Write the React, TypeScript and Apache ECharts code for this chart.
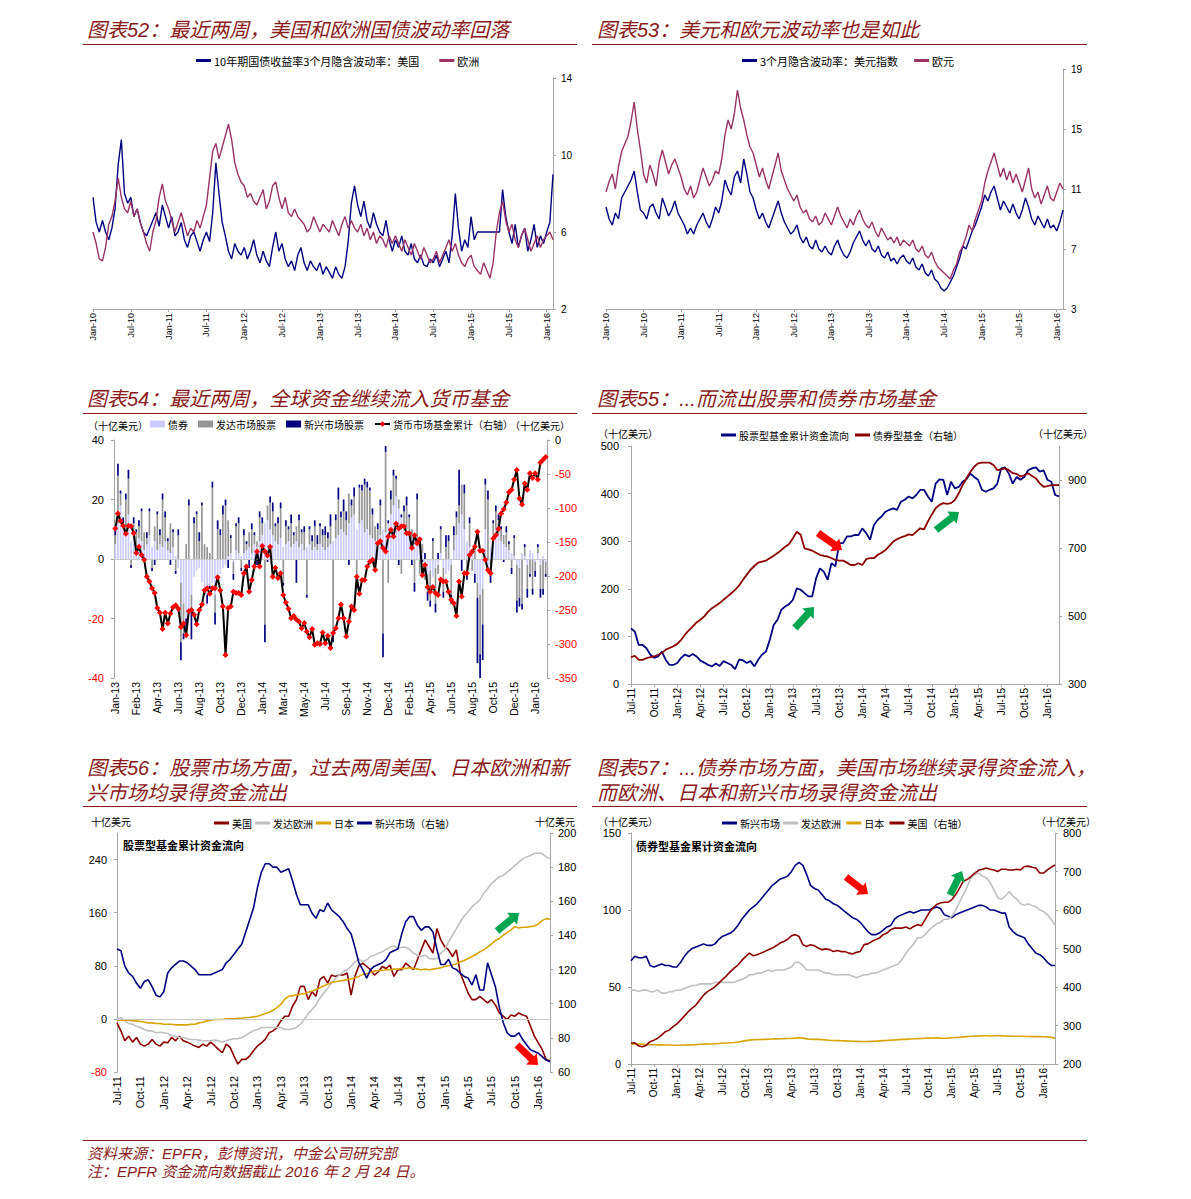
import React, { useEffect, useRef } from "react";
import * as echarts from "echarts";

// ---------- Panel 52: 10y treasury 3m implied vol (half-monthly, Jan-10 .. Feb-16)
const usVol52 = [
  7.8, 6.5, 6.0, 6.6, 6.0, 5.6, 6.2, 7.2, 9.5, 10.8, 8.0, 7.5,
  7.8, 6.8, 7.2, 6.5, 6.0, 5.8, 6.2, 6.6, 7.0, 6.3, 7.4, 6.8,
  6.2, 6.8, 5.8, 6.0, 6.5, 5.6, 5.2, 5.8, 6.0, 5.5, 5.0, 5.6,
  6.0, 5.5, 7.0, 9.6, 8.0, 6.5, 5.8, 5.0, 4.6, 5.4, 5.0, 4.8,
  5.2, 4.6, 5.0, 5.6, 4.8, 4.4, 5.0, 4.5, 4.2, 5.2, 6.0, 5.0,
  5.4, 4.6, 4.2, 4.5, 4.0, 4.8, 5.2, 4.4, 4.0, 4.5, 4.2, 4.0,
  4.4, 3.8, 4.2, 3.9, 3.6, 4.2, 3.8, 3.6, 4.2, 5.5, 7.5, 8.4,
  7.4, 6.8, 7.6, 6.6, 6.2, 7.0, 6.4, 6.0, 5.8, 6.6, 5.6, 5.0,
  5.6, 5.2, 5.8, 5.0, 4.8, 5.4, 4.6, 4.4, 4.8, 4.3, 4.2, 4.6,
  4.4, 4.8, 4.2, 4.6, 5.0, 4.4, 5.8, 8.0, 6.2, 5.0, 5.6, 5.2,
  6.8, 5.6, 6.0, 6.0, 6.0, 6.0, 6.0, 6.0, 6.0, 6.0, 8.2, 6.8,
  6.0, 5.4, 6.4, 5.2, 5.8, 6.2, 5.0, 5.6, 6.4, 5.2, 5.8, 5.4,
  6.0, 6.5, 9.0,
];
const euVol52 = [
  6.0, 5.4, 4.6, 4.5, 5.2, 6.4, 6.8, 7.6, 8.8, 7.8, 7.2, 7.0,
  7.6, 6.8, 7.2, 6.5, 6.0, 5.4, 5.0, 6.0, 6.6, 7.8, 8.5, 7.6,
  7.2, 6.6, 6.0, 6.5, 7.0, 6.4, 5.8, 6.2, 6.0, 6.6, 6.2, 6.8,
  7.4, 8.8, 10.2, 10.6, 9.8, 10.4, 11.0, 11.6, 10.8, 9.6, 9.0, 8.6,
  8.4, 7.8, 8.0, 7.6, 7.4, 7.8, 8.2, 7.2, 7.6, 8.4, 8.6, 7.8,
  7.2, 7.8, 7.0, 6.8, 7.2, 6.8, 6.6, 6.4, 6.0, 6.2, 6.8, 6.4,
  6.0, 6.4, 6.2, 6.0, 6.6, 6.2, 5.8, 6.4, 6.8, 6.2, 6.6, 6.2,
  6.0, 6.4, 5.8, 6.2, 5.6, 6.0, 5.4, 5.8, 5.6, 5.2, 5.8, 5.4,
  5.8, 5.4, 5.0, 5.6, 5.2, 4.8, 5.4, 5.0, 4.6, 5.2, 4.8, 4.4,
  4.6, 5.0, 4.4, 4.8, 5.2, 5.6, 5.0, 5.4, 4.8, 4.4, 4.2, 4.6,
  4.8, 4.2, 4.0, 3.8, 4.4, 4.0, 3.6, 4.4, 6.0, 7.0, 7.6, 6.6,
  6.0, 6.4, 5.6, 5.2, 5.8, 6.2, 5.6, 5.0, 5.4, 5.8, 5.2, 5.6,
  5.8, 6.0, 5.6,
];

// ---------- Panel 53: 3m implied vol, DXY and EUR (half-monthly)
const dxyVol53 = [
  9.8, 9.0, 8.6, 9.4, 9.0, 10.4, 10.8, 11.2, 11.6, 12.2, 10.8, 9.6,
  9.4, 9.0, 9.8, 10.0, 9.4, 9.0, 10.4, 9.8, 9.2, 9.6, 10.2, 9.4,
  9.0, 8.6, 8.0, 8.4, 8.0, 8.6, 9.0, 9.4, 8.8, 8.4, 9.0, 9.8,
  9.4, 10.2, 11.6, 11.0, 10.6, 11.8, 12.2, 11.4, 13.0, 12.0, 10.8, 10.4,
  9.6, 9.0, 9.4, 8.8, 8.4, 9.0, 9.6, 10.2, 9.4, 8.8, 8.4, 8.0,
  8.2, 8.6, 7.8, 7.4, 7.8, 7.2, 7.0, 7.6, 7.0, 6.8, 7.2, 6.8,
  6.6, 7.2, 7.6, 7.0, 6.6, 6.4, 6.8, 7.4, 7.8, 8.2, 7.6, 7.2,
  7.6, 7.0, 6.8, 7.2, 6.6, 6.4, 6.8, 6.2, 6.4, 6.0, 6.4, 6.6,
  6.2, 6.0, 6.4, 5.8, 5.6, 6.0, 5.4, 5.2, 5.6, 5.0, 4.8, 4.4,
  4.2, 4.4, 4.8, 5.2, 5.8, 6.4, 7.2, 7.0, 7.6, 8.2, 8.6, 9.2,
  9.8, 10.6, 10.2, 10.8, 11.2, 10.4, 9.6, 10.2, 9.8, 9.4, 10.0, 9.4,
  9.0, 9.6, 10.4, 9.8, 9.0, 8.6, 9.2, 8.8, 8.4, 9.0, 8.4, 8.6,
  8.2, 8.8, 9.6,
];
const eurVol53 = [
  10.8, 11.5, 12.0, 11.0, 12.5, 13.5, 14.0, 14.5, 15.5, 16.8, 15.0, 13.6,
  12.0, 11.4, 12.6, 12.0, 11.2, 12.8, 13.6, 12.8, 12.0, 12.6, 13.0, 12.4,
  11.8, 11.0, 10.6, 11.2, 10.4, 10.8, 11.6, 12.4, 11.8, 11.2, 11.6, 12.2,
  12.0, 13.0, 14.6, 15.6, 15.0, 16.0, 17.6, 16.4, 15.6, 14.6, 13.8, 13.4,
  12.6, 11.8, 12.4, 11.6, 11.0, 11.8, 12.6, 13.4, 12.2, 11.6, 11.0, 10.6,
  10.2, 10.6, 9.8, 9.4, 9.6, 9.0, 8.8, 9.2, 8.6, 8.8, 9.4, 9.0,
  8.6, 9.2, 9.8, 9.2, 8.8, 8.4, 9.0, 8.6, 9.2, 9.6, 9.0, 8.6,
  8.4, 8.8, 8.2, 7.8, 8.4, 8.0, 7.6, 7.8, 7.4, 7.8, 7.2, 7.6,
  7.4, 7.2, 7.6, 7.0, 6.8, 7.2, 6.6, 6.4, 6.8, 6.2, 5.8, 5.6,
  5.4, 5.2, 5.0, 5.6, 6.0, 6.8, 7.2, 7.8, 8.6, 8.2, 9.0, 9.6,
  10.2, 11.4, 12.2, 12.8, 13.4, 12.6, 11.8, 12.4, 11.6, 12.2, 11.4, 12.0,
  11.4, 10.8, 11.6, 12.4, 11.0, 10.4, 10.8, 10.0, 10.6, 11.2, 10.4, 10.2,
  10.8, 11.4, 11.0,
];

// ---------- Panel 54: weekly flows (Jan-13 .. Feb-16), US$ bn
const bonds54 = [
  5, 12, 18, 10, 8, 15, 6, 9, 4, 7,
  6, 3, 5, 8, 4, 6, 3, 5, 4, 6,
  3, 2, 4, 1, -3, -8, -15, -20, -18, -12,
  -6, -4, -3, -8, -10, -12, -9, -8, -12, -7,
  -5, -3, -2, 1, 2, -1, 3, 2, 1, 2,
  3, 4, 2, 5, 4, 6, 8, 12, 13, 10,
  8, 6, 5, 7, 4, 5, 6, 4, 5, 6,
  4, 5, 3, 4, 5, 3, 4, 3, 5, 4,
  3, 4, 5, 6, 7, 8, 10, 9, 8, 12,
  14, 15, 10, 12, 13, 9, 10, 8, 7, 6,
  5, 8, 10, 9, 12, 15, 18, 21, 17, 14,
  12, 10, 8, 7, 6, 5, 4, 2, -3, -5,
  -4, -6, -3, -2, 2, -3, -5, -4, -2, 3,
  8, 12, 15, 10, 6, 4, 2, -5, -8, -12,
  -10, 10, -5, 4, 8, 10, 8, 6, 5, 4,
  3, 2, 1, -2, -3, 2, 1, -2, 3, 2,
  -1, 2, -2, 1, -1,
];
const devEq54 = [
  3, 16, 4, 2, 12, 12, -2, 3, 5, 4,
  10, 6, 2, 8, -3, 5, 12, 3, 16, 8,
  3, 10, 5, -4, 8, -20, -10, 5, 18, -5,
  12, 15, 6, 18, 5, 4, 2, 24, -6, 10,
  8, 15, 18, 12, 5, -4, 8, 10, -3, 6,
  2, 5, 8, 3, 2, 8, 4, -22, 5, 9,
  8, 5, 7, 10, -8, 6, 4, 8, 3, 5,
  9, 4, 6, -12, 5, 3, 7, 2, 6, 4,
  5, 3, 6, -25, 6, 12, 4, 7, 5, 10,
  4, 6, -8, 12, 10, 16, 14, 15, 8, 5,
  5, 10, -25, 27, -8, 5, 10, 6, 3, -5,
  4, 8, 6, 3, -8, 15, -5, 3, -4, -6,
  -10, 6, -12, -3, 8, -8, 4, 6, -10, 5,
  6, 6, 10, 12, -5, 8, -4, 6, -5, -20,
  -12, 15, 20, -5, 4, 6, 5, 4, 3, 5,
  2, -3, 6, -12, -10, -15, 3, -8, -5, -10,
  -3, 2, -8, -10, -4,
];
const emEq54 = [
  2, 4, 1, 2, 2, 3, -1, 2, 1, 2,
  1, -1, 2, 1, -1, -2, 1, 2, 2, 2,
  1, -2, 1, -1, 2, -6, -2, -4, 2, -10,
  2, 1, 3, 1, -2, -3, -1, 2, -4, 3,
  2, 3, 2, -3, 1, -2, 1, 2, -1, 2,
  1, -3, 2, 1, -2, 2, 2, -6, -1, 2,
  3, 1, 2, 2, -1, 2, 1, 3, 1, -8,
  2, 1, 2, -1, 1, 2, 2, 3, 1, 2,
  3, 2, 4, -3, 2, 4, 2, 4, 3, -2,
  2, 3, -2, 1, 2, 2, 2, 1, 2, -3,
  2, 2, -8, 2, 1, 3, 2, 1, -2, 1,
  2, 3, 1, -2, -3, 2, 2, -1, 2, -3,
  -2, 1, -3, 2, 1, -2, 4, 2, -3, 3,
  2, 12, -4, 3, -2, 2, 1, -3, -22, -8,
  -12, 2, 3, -3, 1, 2, 2, 1, -1, 2,
  1, -2, 1, -4, -3, -2, 1, -3, -1, -2,
  -2, 1, -3, -2, -1,
];
const moneyCum54 = [
  -130, -108, -119, -126, -138, -126, -127, -137, -166, -157,
  -169, -176, -201, -208, -218, -225, -247, -254, -278, -254,
  -270, -255, -246, -243, -248, -275, -270, -287, -252, -250,
  -257, -271, -250, -242, -221, -218, -226, -218, -218, -202,
  -221, -245, -316, -247, -245, -223, -225, -225, -228, -196,
  -186, -223, -206, -186, -164, -186, -156, -164, -170, -157,
  -201, -188, -203, -196, -228, -239, -248, -262, -259, -264,
  -267, -277, -269, -282, -290, -278, -301, -299, -300, -283,
  -299, -288, -306, -284, -277, -262, -242, -262, -289, -267,
  -245, -250, -201, -226, -206, -206, -186, -179, -176, -191,
  -152, -149, -159, -164, -142, -132, -142, -123, -130, -127,
  -127, -137, -137, -159, -140, -152, -146, -199, -184, -216,
  -223, -216, -225, -228, -205, -208, -208, -223, -235, -240,
  -259, -208, -230, -196, -196, -169, -164, -157, -135, -163,
  -163, -176, -191, -196, -145, -140, -131, -108, -102, -92,
  -77, -73, -58, -44, -86, -95, -64, -73, -49, -56,
  -49, -58, -33, -29, -25,
];

// ---------- Panel 55: cumulative fund flows (half-monthly, Jul-11 .. Feb-16)
const equityCum55 = [
  117, 110, 82, 82, 75, 62, 55, 58, 68, 51,
  40, 40, 44, 55, 62, 58, 63, 58, 49, 45,
  40, 37, 43, 38, 48, 44, 40, 31, 51, 50,
  44, 48, 37, 51, 62, 68, 93, 124, 135, 156,
  163, 168, 177, 201, 198, 191, 184, 184, 222, 243,
  236, 219, 254, 247, 296, 296, 310, 310, 313, 313,
  327, 317, 303, 334, 345, 352, 362, 366, 369, 366,
  383, 387, 394, 390, 397, 408, 408, 394, 383, 421,
  430, 429, 397, 425, 411, 414, 425, 430, 442, 435,
  429, 408, 404, 408, 411, 421, 453, 455, 442, 421,
  435, 429, 435, 449, 453, 455, 446, 449, 429, 425,
  397, 394,
];
const bondCum55 = [
  379, 383, 371, 371, 376, 379, 381, 386, 391, 401,
  406, 411, 418, 430, 445, 458, 469, 481, 489, 499,
  513, 523, 530, 538, 548, 557, 567, 577, 589, 606,
  621, 636, 647, 657, 660, 663, 670, 677, 685, 694,
  704, 712, 729, 748, 739, 699, 696, 692, 686, 680,
  677, 675, 670, 665, 663, 663, 657, 650, 650, 655,
  650, 667, 670, 670, 680, 686, 694, 706, 719, 726,
  731, 735, 740, 738, 748, 758, 755, 778, 798, 817,
  827, 832, 830, 832, 841, 861, 885, 905, 924, 939,
  949, 951, 951, 951, 944, 929, 931, 934, 929, 920,
  918, 910, 914, 920, 912, 905, 890, 880, 882, 885,
  885, 885,
];

// ---------- Panel 56: cumulative equity fund flows by region
const us56 = [
  -6, -18, -33, -26, -35, -28, -38, -41, -38, -31,
  -38, -41, -35, -36, -28, -33, -26, -33, -35, -38,
  -41, -43, -38, -41, -35, -40, -46, -51, -38, -43,
  -56, -68, -61, -61, -56, -48, -41, -36, -31, -21,
  -18, -13, -3, 4, 4, 19, 29, 49, 49, 29,
  41, 34, 59, 64, 54, 66, 64, 66, 66, 69,
  36, 64, 80, 84, 79, 74, 66, 71, 79, 76,
  81, 64, 74, 74, 84, 79, 74, 89, 104, 119,
  109, 99, 136, 119, 109, 104, 94, 104, 69, 54,
  39, 29, 29, 34, 29, 24, 29, 21, 9, 4,
  -1, 6, 4, 9, 6, 4, -11, -26, -36, -46,
  -61, -63,
];
const eu56 = [
  0, 2, -3, -7, -8, -11, -13, -16, -18, -18,
  -21, -20, -21, -22, -25, -26, -28, -28, -30, -31,
  -31, -32, -33, -33, -33, -32, -33, -35, -33, -31,
  -30, -30, -28, -25, -21, -18, -16, -13, -13, -13,
  -13, -13, -13, -16, -16, -15, -13, -8, -1, 8,
  14, 21, 31, 39, 46, 54, 61, 66, 71, 74,
  79, 86, 90, 86, 89, 94, 96, 99, 101, 105,
  108, 110, 106, 108, 108, 105, 99, 96, 94, 96,
  91, 90, 91, 99, 104, 116, 126, 136, 146, 155,
  161, 169, 174, 179, 189, 196, 204, 209, 214, 216,
  221, 226, 231, 236, 241, 244, 246, 249, 250, 249,
  244, 241,
];
const jp56 = [
  -2, -2, -2, -2, -3, -3, -4, -5, -6, -6,
  -7, -7, -8, -8, -8, -9, -9, -9, -9, -8,
  -8, -6, -5, -3, -2, -1, -1, -1, 0, 0,
  0, 1, 1, 2, 2, 3, 4, 6, 8, 10,
  13, 17, 22, 30, 34, 35, 36, 37, 38, 40,
  42, 44, 47, 50, 52, 55, 56, 57, 58, 59,
  60, 62, 64, 67, 68, 70, 72, 73, 73, 74,
  74, 75, 75, 76, 76, 77, 76, 75, 74, 75,
  74, 75, 76, 77, 79, 80, 81, 83, 86, 88,
  91, 94, 97, 101, 104, 108, 113, 118, 121, 126,
  130, 134, 139, 137, 138, 138, 139, 140, 143, 148,
  151, 150,
];
const em56 = [
  132, 131, 122, 118, 116, 112, 109, 113, 114, 110,
  105, 104, 107, 118, 121, 123, 125, 125, 124, 122,
  120, 117, 117, 117, 117, 118, 119, 120, 124, 126,
  129, 132, 135, 142, 149, 156, 168, 177, 182, 182,
  180, 180, 177, 178, 179, 172, 164, 158, 158, 158,
  153, 150, 155, 154, 159, 155, 153, 151, 148, 144,
  141, 133, 124, 120, 115, 120, 122, 123, 124, 126,
  130, 131, 132, 141, 148, 151, 151, 146, 143, 145,
  145, 142, 132, 123, 123, 126, 121, 120, 118, 116,
  115, 111, 117, 108, 108, 124, 117, 110, 98, 89,
  83, 81, 81, 83, 79, 76, 73, 72, 71, 69,
  67, 66,
];

// ---------- Panel 57: cumulative bond fund flows by region
const em57 = [
  67, 70, 69, 69, 70, 64, 63, 64, 65, 64,
  64, 63, 63, 66, 70, 73, 75, 76, 77, 78,
  77, 77, 78, 81, 83, 84, 85, 87, 90, 94,
  97, 100, 102, 104, 107, 110, 113, 116, 118, 120,
  121, 122, 125, 129, 131, 129, 123, 116, 114, 113,
  110, 107, 106, 104, 103, 101, 99, 97, 95, 94,
  92, 89, 86, 84, 84, 85, 87, 89, 90, 94,
  96, 97, 98, 99, 98, 99, 100, 100, 100, 101,
  102, 101, 97, 96, 95, 97, 98, 99, 100, 101,
  102, 103, 103, 102, 100, 100, 99, 98, 98, 89,
  86, 84, 83, 82, 78, 75, 72, 71, 69, 66,
  64, 64,
];
const eu57 = [
  48, 48, 47, 48, 48, 47, 47, 48, 46, 46,
  47, 47, 48, 48, 49, 50, 51, 51, 52, 52,
  52, 52, 53, 53, 53, 53, 53, 53, 54, 55,
  56, 58, 58, 59, 59, 60, 61, 60, 61, 61,
  61, 62, 63, 66, 66, 64, 61, 61, 61, 61,
  60, 59, 59, 58, 58, 58, 58, 58, 57, 56,
  57, 58, 58, 59, 59, 60, 61, 62, 63, 64,
  65, 68, 72, 75, 78, 82, 82, 84, 87, 89,
  91, 92, 94, 94, 96, 100, 105, 110, 115, 121,
  123, 124, 122, 121, 118, 113, 108, 107, 109, 112,
  109, 107, 104, 103, 104, 103, 102, 100, 99, 97,
  94, 90,
];
const jp57 = [
  13, 13, 13, 12.8, 12.6, 12.5, 12.5, 12.4, 12.4, 12.3, 12.3, 12.2,
  12.2, 12.2, 12.3, 12.4, 12.5, 12.6, 12.8, 12.9, 13, 13, 13.1, 13.3,
  13.5, 13.6, 13.8, 14, 14.3, 14.7, 15.2, 15.5, 15.7, 15.8, 15.9, 16,
  16.1, 16.2, 16.3, 16.4, 16.5, 16.6, 16.6, 16.8, 17, 16.8, 16.3, 16.1,
  16, 16, 15.8, 15.6, 15.4, 15.3, 15.2, 15.1, 15, 14.9, 14.8, 14.7,
  14.6, 14.6, 14.6, 14.7, 14.8, 15, 15.2, 15.3, 15.5, 15.6, 15.8, 16,
  16, 16.2, 16.4, 16.5, 16.6, 16.7, 16.8, 16.9, 17, 16.8, 16.7, 16.8,
  17, 17.2, 17.4, 17.6, 17.8, 18, 18.1, 18.2, 18.3, 18.3, 18.2, 18.3,
  18.4, 18.3, 18.2, 18.1, 18, 18, 18, 17.9, 17.9, 17.8, 17.8, 17.8,
  17.7, 17.6, 17.3, 16.8,
];
const us57 = [
  254, 255, 247, 245, 249, 258, 262, 267, 275, 284,
  288, 297, 304, 314, 325, 336, 345, 353, 366, 379,
  388, 394, 401, 410, 420, 429, 440, 449, 457, 469,
  479, 488, 481, 484, 488, 492, 497, 501, 507, 514,
  518, 524, 533, 536, 531, 510, 505, 510, 507, 501,
  497, 499, 497, 492, 495, 492, 492, 488, 486, 490,
  492, 510, 512, 518, 523, 527, 536, 540, 549, 553,
  553, 553, 556, 551, 557, 562, 559, 575, 592, 605,
  614, 618, 620, 620, 627, 640, 657, 675, 679, 687,
  696, 703, 706, 709, 706, 704, 700, 706, 706, 704,
  704, 706, 704, 713, 714, 711, 709, 696, 696, 704,
  711, 717,
];

// ---------- tick values
const ticks52 = [2, 6, 10, 14];
const ticks53 = [3, 7, 11, 15, 19];
const ticks55R = [300, 500, 700, 900];
const ticks56L = [-80, 0, 80, 160, 240];

// ---------- helpers for category labels
const MON = ["Jan", "Feb", "Mar", "Apr", "May", "Jun", "Jul", "Aug", "Sep", "Oct", "Nov", "Dec"];
const pad = (n: number) => String(n).padStart(2, "0");
function halfMonthDates(y0: number, m0: number, n: number): string[] {
  const out: string[] = [];
  for (let i = 0; i < n; i++) {
    const mm = m0 + Math.floor(i / 2);
    const y = y0 + Math.floor(mm / 12);
    const m = mm % 12;
    out.push(`${y}-${pad(m + 1)}-${i % 2 === 0 ? "01" : "16"}`);
  }
  return out;
}
function weeklyDates(y: number, m: number, d: number, n: number): string[] {
  const out: string[] = [];
  const t0 = Date.UTC(y, m, d);
  for (let i = 0; i < n; i++) {
    const dt = new Date(t0 + i * 7 * 86400000);
    out.push(`${dt.getUTCFullYear()}-${pad(dt.getUTCMonth() + 1)}-${pad(dt.getUTCDate())}`);
  }
  return out;
}
const fmtMon = (v: string) => {
  const [y, m] = v.split("-");
  return `${MON[+m - 1]}-${y.slice(2)}`;
};

const dates52 = halfMonthDates(2010, 0, usVol52.length);
const dates53 = halfMonthDates(2010, 0, dxyVol53.length);
const weeks54 = weeklyDates(2013, 0, 2, moneyCum54.length);
const dates55 = halfMonthDates(2011, 6, equityCum55.length);
const dates56 = halfMonthDates(2011, 6, us56.length);
const dates57 = halfMonthDates(2011, 6, em57.length);

const AX = "#a6a6a6";
const NUM = '"Liberation Sans", Arial, "Noto Sans CJK SC", sans-serif';
const CJK = '"Noto Sans CJK SC", "Liberation Sans", sans-serif';
const TITLE = "#8b1a1a";
const NAVY = "#000080";
const PLUM = "#993366";
const MAROON = "#8b0000";
const SILVER = "#c0c0c0";
const GOLD = "#d9a400";
const RED = "#ff0000";

function catAxis(gridIndex: number, data: string[], every: number, fontSize: number, opts: any = {}) {
  const showLine = opts.line !== false;
  const iv = (i: number) => i % every === 0;
  return {
    type: "category",
    gridIndex,
    data,
    boundaryGap: !!opts.boundaryGap,
    axisLine: { show: showLine, onZero: false, lineStyle: { color: AX, width: 1 } },
    axisTick: { show: showLine, length: 3, interval: iv, lineStyle: { color: AX } },
    axisLabel: {
      interval: iv,
      rotate: 90,
      fontSize,
      color: "#000",
      fontFamily: NUM,
      margin: 4,
      formatter: fmtMon,
    },
    splitLine: { show: false },
  };
}

function valAxis(gridIndex: number, position: string, min: number, max: number, o: any) {
  const axisLabel: any = {
    fontSize: o.fontSize || 11,
    fontFamily: NUM,
    margin: o.margin || 8,
    color: o.negRed ? (v: any) => (Number(v) < 0 ? RED : "#000") : "#000",
  };
  const axisTick: any = { show: true, length: 3, lineStyle: { color: AX } };
  if (o.custom) {
    axisLabel.customValues = o.custom;
    axisTick.customValues = o.custom;
  }
  const ax: any = {
    type: "value",
    gridIndex,
    position,
    min,
    max,
    splitLine: { show: false },
    axisLine: { show: true, onZero: false, lineStyle: { color: AX, width: 1 } },
    axisTick,
    axisLabel,
  };
  if (o.interval) ax.interval = o.interval;
  return ax;
}

function lineSeries(name: string, xi: number, yi: number, data: number[], color: string, width = 1.6) {
  return {
    type: "line",
    name,
    xAxisIndex: xi,
    yAxisIndex: yi,
    data,
    symbol: "none",
    lineStyle: { color, width },
    itemStyle: { color },
    emphasis: { disabled: true },
  };
}

function arrow(x1: number, y1: number, x2: number, y2: number, color: string) {
  const dx = x2 - x1;
  const dy = y2 - y1;
  const L = Math.hypot(dx, dy);
  const ux = dx / L;
  const uy = dy / L;
  const px = -uy;
  const py = ux;
  const w = 3.6;
  const h = 7.8;
  const hl = 9;
  const nx = x2 - ux * hl;
  const ny = y2 - uy * hl;
  const pts = [
    [x1 + px * w, y1 + py * w],
    [nx + px * w, ny + py * w],
    [nx + px * h, ny + py * h],
    [x2, y2],
    [nx - px * h, ny - py * h],
    [nx - px * w, ny - py * w],
    [x1 - px * w, y1 - py * w],
  ];
  return { type: "polygon", z: 100, silent: true, shape: { points: pts }, style: { fill: color } };
}

function txt(x: number, y: number, text: string, size: number, o: any = {}) {
  return {
    type: "text",
    x,
    y,
    z: 100,
    silent: true,
    style: {
      text,
      fontSize: size,
      fontFamily: o.family || CJK,
      fontStyle: o.italic ? "italic" : "normal",
      fontWeight: o.bold ? "bold" : "normal",
      fill: o.color || "#000",
      verticalAlign: "middle",
      align: o.align || "left",
    },
  };
}
function hline(x1: number, x2: number, y: number) {
  return { type: "line", z: 100, silent: true, shape: { x1, y1: y, x2, y2: y }, style: { stroke: TITLE, lineWidth: 1 } };
}

function lineItem(name: string) {
  return { name, icon: "rect" };
}

function legend(left: number, top: number, data: any[], fontSize: number, itemGap: number, itemHeight = 3) {
  return {
    left,
    top,
    orient: "horizontal",
    itemWidth: 15,
    itemHeight,
    itemGap,
    selectedMode: false,
    padding: 0,
    textStyle: { fontSize, fontFamily: CJK, color: "#000", padding: [0, 0, 0, -2] },
    data,
  };
}

function buildOption() {
  const TITLE_FONT = '"Liberation Sans", "Noto Sans CJK SC", sans-serif';
  const tOpts = { italic: true, color: TITLE, family: TITLE_FONT };
  const graphic: any[] = [
    txt(87, 30, "图表52：最近两周，美国和欧洲国债波动率回落", 20, tOpts),
    txt(597, 30, "图表53：美元和欧元波动率也是如此", 20, tOpts),
    txt(87, 399, "图表54：最近两周，全球资金继续流入货币基金", 20, tOpts),
    txt(597, 399, "图表55：...而流出股票和债券市场基金", 20, tOpts),
    txt(87, 768, "图表56：股票市场方面，过去两周美国、日本欧洲和新", 20, tOpts),
    txt(87, 793, "兴市场均录得资金流出", 20, tOpts),
    txt(597, 768, "图表57：...债券市场方面，美国市场继续录得资金流入，", 20, tOpts),
    txt(597, 793, "而欧洲、日本和新兴市场录得资金流出", 20, tOpts),
    hline(83, 577, 44.5),
    hline(592, 1087, 44.5),
    hline(83, 577, 413.5),
    hline(592, 1087, 413.5),
    hline(83, 577, 806.5),
    hline(592, 1087, 806.5),
    hline(83, 1087, 1140.5),
    txt(87, 1153, "资料来源：EPFR，彭博资讯，中金公司研究部", 15, tOpts),
    txt(87, 1171, "注：EPFR 资金流向数据截止 2016 年 2 月 24 日。", 15, tOpts),
    txt(88, 425, "（十亿美元）", 10),
    txt(510, 425, "（十亿美元）", 10),
    txt(598, 433, "（十亿美元）", 10),
    txt(1033, 433, "（十亿美元）", 10),
    txt(91, 821, "十亿美元", 10),
    txt(535, 821, "十亿美元", 10),
    txt(598, 821, "（十亿美元）", 10),
    txt(1036, 821, "（十亿美元）", 10),
    txt(123, 845, "股票型基金累计资金流向", 11, { bold: true }),
    txt(636, 846, "债券型基金累计资金流向", 11, { bold: true }),
    arrow(818, 533, 842, 550, RED),
    arrow(795, 628, 814, 607, "#00a550"),
    arrow(936, 530, 959, 512, "#00a550"),
    arrow(497, 931, 519, 913, "#00a550"),
    arrow(517, 1045, 538, 1065, RED),
    arrow(846, 877, 868, 894, RED),
    arrow(950, 895, 962, 871, "#00a550"),
  ];

  const grid = [
    { left: 93, top: 78, width: 460, height: 231 },
    { left: 606, top: 69, width: 457, height: 240 },
    { left: 114, top: 440, width: 433, height: 238 },
    { left: 631, top: 446, width: 428, height: 238 },
    { left: 117, top: 833, width: 433, height: 239 },
    { left: 631, top: 833, width: 424, height: 231 },
  ].map((g) => ({ ...g, outerBoundsMode: "none", containLabel: false }));

  const xAxis = [
    catAxis(0, dates52, 12, 9),
    catAxis(1, dates53, 12, 9),
    catAxis(2, weeks54, 8, 10.5, { boundaryGap: true, line: false }),
    catAxis(3, dates55, 6, 10),
    catAxis(4, dates56, 6, 11, { line: false }),
    catAxis(5, dates57, 6, 10),
  ];

  // yAxis index : grid index
  // 0:0  1:1  2:2 3:2  4:3 5:3  6:4 7:4  8:5 9:5
  const yAxis = [
    valAxis(0, "right", 2, 14, { custom: ticks52, fontSize: 10 }),
    valAxis(1, "right", 3, 19, { custom: ticks53, fontSize: 10 }),
    valAxis(2, "left", -40, 40, { interval: 20, negRed: true, margin: 10 }),
    valAxis(2, "right", -350, 0, { interval: 50, negRed: true, margin: 8 }),
    valAxis(3, "left", 0, 500, { interval: 100, margin: 12 }),
    valAxis(3, "right", 300, 1000, { custom: ticks55R, margin: 9 }),
    valAxis(4, "left", -80, 280, { custom: ticks56L, negRed: true, margin: 10 }),
    valAxis(4, "right", 60, 200, { interval: 20, margin: 8 }),
    valAxis(5, "left", 0, 150, { interval: 50, margin: 10 }),
    valAxis(5, "right", 200, 800, { interval: 100, margin: 8 }),
  ];

  const zeroLine = {
    silent: true,
    symbol: "none",
    label: { show: false },
    lineStyle: { color: "#c8c8c8", type: "solid", width: 1 },
    data: [{ yAxis: 0 }],
  };

  const barBase = (name: string, data: number[], color: string) => ({
    type: "bar",
    name,
    xAxisIndex: 2,
    yAxisIndex: 2,
    stack: "flows54",
    barWidth: 1.7,
    data,
    itemStyle: { color },
    emphasis: { disabled: true },
  });

  const series: any[] = [
    lineSeries("10年期国债收益率3个月隐含波动率：美国", 0, 0, usVol52, NAVY, 1.4),
    lineSeries("欧洲", 0, 0, euVol52, PLUM, 1.4),
    lineSeries("3个月隐含波动率：美元指数", 1, 1, dxyVol53, NAVY, 1.4),
    lineSeries("欧元", 1, 1, eurVol53, PLUM, 1.4),
    { ...barBase("债券", bonds54, "#ccccff"), markLine: zeroLine },
    barBase("发达市场股票", devEq54, "#969696"),
    barBase("新兴市场股票", emEq54, NAVY),
    {
      type: "line",
      name: "货币市场基金累计（右轴）",
      xAxisIndex: 2,
      yAxisIndex: 3,
      data: moneyCum54,
      symbol: "diamond",
      symbolSize: 6,
      showAllSymbol: true,
      lineStyle: { color: "#000", width: 2 },
      itemStyle: { color: RED },
      emphasis: { disabled: true },
      z: 5,
    },
    lineSeries("股票型基金累计资金流向", 3, 4, equityCum55, NAVY, 1.8),
    lineSeries("债券型基金（右轴）", 3, 5, bondCum55, MAROON, 1.8),
    { ...lineSeries("美国", 4, 6, us56, MAROON, 1.6), markLine: zeroLine },
    lineSeries("发达欧洲", 4, 6, eu56, SILVER, 1.6),
    lineSeries("日本", 4, 6, jp56, GOLD, 1.6),
    lineSeries("新兴市场（右轴）", 4, 7, em56, NAVY, 1.6),
    lineSeries("新兴市场", 5, 8, em57, NAVY, 1.6),
    lineSeries("发达欧洲 ", 5, 8, eu57, SILVER, 1.6),
    lineSeries("日本 ", 5, 8, jp57, GOLD, 1.6),
    lineSeries("美国（右轴）", 5, 9, us57, MAROON, 1.6),
  ];

  const legends = [
    legend(196, 55, [lineItem("10年期国债收益率3个月隐含波动率：美国"), lineItem("欧洲")], 11, 20),
    legend(742, 55, [lineItem("3个月隐含波动率：美元指数"), lineItem("欧元")], 11, 16),
    legend(
      150,
      419,
      [
        { name: "债券", icon: "rect" },
        { name: "发达市场股票", icon: "rect" },
        { name: "新兴市场股票", icon: "rect" },
        "货币市场基金累计（右轴）",
      ],
      10,
      10,
      7
    ),
    legend(721, 430, [lineItem("股票型基金累计资金流向"), lineItem("债券型基金（右轴）")], 10, 6),
    legend(214, 818, ["美国", "发达欧洲", "日本", "新兴市场（右轴）"].map(lineItem), 10, 3),
    legend(722, 818, ["新兴市场", "发达欧洲 ", "日本 ", "美国（右轴）"].map(lineItem), 10, 3),
  ];

  return {
    animation: false,
    backgroundColor: "#fff",
    textStyle: { fontFamily: NUM },
    grid,
    xAxis,
    yAxis,
    legend: legends,
    series,
    graphic,
  };
}

export default function App() {
  const ref = useRef<HTMLDivElement>(null);
  useEffect(() => {
    if (!ref.current) return;
    const chart = echarts.init(ref.current, null, { renderer: "svg" });
    chart.setOption(buildOption() as any);
    return () => {
      chart.dispose();
    };
  }, []);
  return (
    <div
      ref={ref}
      style={{ position: "absolute", left: 0, top: 0, width: 1191, height: 1199, background: "#fff" }}
    />
  );
}
